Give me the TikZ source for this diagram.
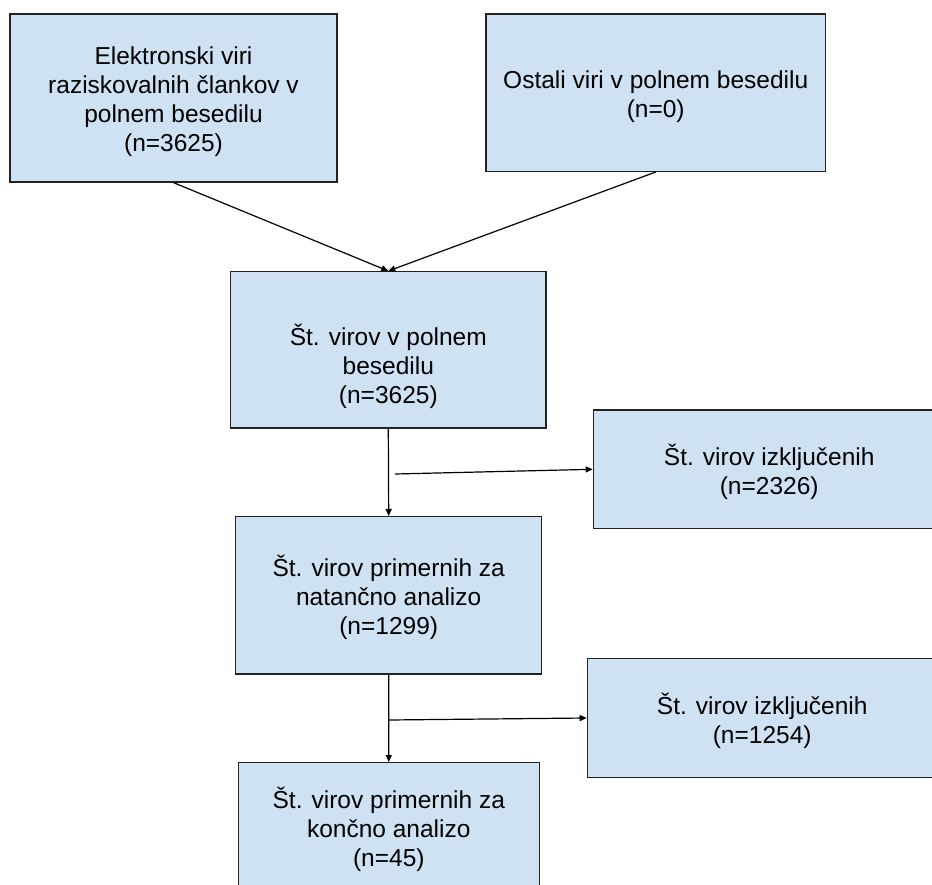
\documentclass[tikz,border=0pt]{standalone}
\usepackage{fontspec}
\setmainfont{Liberation Sans}
\usetikzlibrary{arrows.meta}
\definecolor{boxfill}{HTML}{CFE2F3}
\definecolor{boxline}{HTML}{222222}
\tikzset{
  box/.style={draw=boxline, line width=1.3pt, fill=boxfill, rectangle, inner sep=0pt},
  txt/.style={inner sep=0pt, align=center, font=\fontsize{24.5}{29}\selectfont},
  conn/.style={draw=black, line width=1.2pt, -{Triangle[length=7pt,width=6pt]}}
}
\begin{document}
\begin{tikzpicture}[x=1pt,y=-1pt]
\useasboundingbox (0,0) rectangle (932,885);
\node[box, minimum width=327pt, minimum height=168pt] (b1) at (173.5,98) {};
\node[txt] (t1) at ([yshift=-3.5pt]b1.center)
  {Elektronski viri\\raziskovalnih člankov v\\polnem besedilu\\(n=3625)};
\node[box, minimum width=339.3pt, minimum height=157.3pt] (b2) at (655.7,92.7) {};
\node[txt] (t2) at ([yshift=-4pt]b2.center)
  {Ostali viri v polnem besedilu\\(n=0)};
\node[box, minimum width=315.3pt, minimum height=156.3pt] (b3) at (388.3,349.8) {};
\node[txt] (t3) at ([yshift=-16.5pt]b3.center)
  {Št. virov v polnem\\besedilu\\(n=3625)};
\node[box, minimum width=351.7pt, minimum height=118.7pt] (b4) at (769.2,469.3) {};
\node[txt] (t4) at ([yshift=-3pt]b4.center)
  {Št. virov izključenih\\(n=2326)};
\node[box, minimum width=306pt, minimum height=157.3pt] (b5) at (388.7,595.3) {};
\node[txt] (t5) at ([yshift=-2pt]b5.center)
  {Št. virov primernih za\\natančno analizo\\(n=1299)};
\node[box, minimum width=349.7pt, minimum height=118.6pt] (b6) at (762.2,718) {};
\node[txt] (t6) at ([yshift=-3pt]b6.center)
  {Št. virov izključenih\\(n=1254)};
\node[box, minimum width=301pt, minimum height=132.3pt] (b7) at (388.8,828.8) {};
\node[txt] (t7) at ([yshift=-1pt]b7.center)
  {Št. virov primernih za\\končno analizo\\(n=45)};
\coordinate (s1) at (395,474);
\coordinate (s2) at (389,720);
\draw[conn] (b1.south) -- (b3.north);
\draw[conn] (b2.south) -- (b3.north);
\draw[conn] (b3.south) -- (b5.north);
\draw[conn] (s1) -- (b4.west);
\draw[conn] (b5.south) -- (b7.north);
\draw[conn] (s2) -- (b6.west);
\end{tikzpicture}
\end{document}
